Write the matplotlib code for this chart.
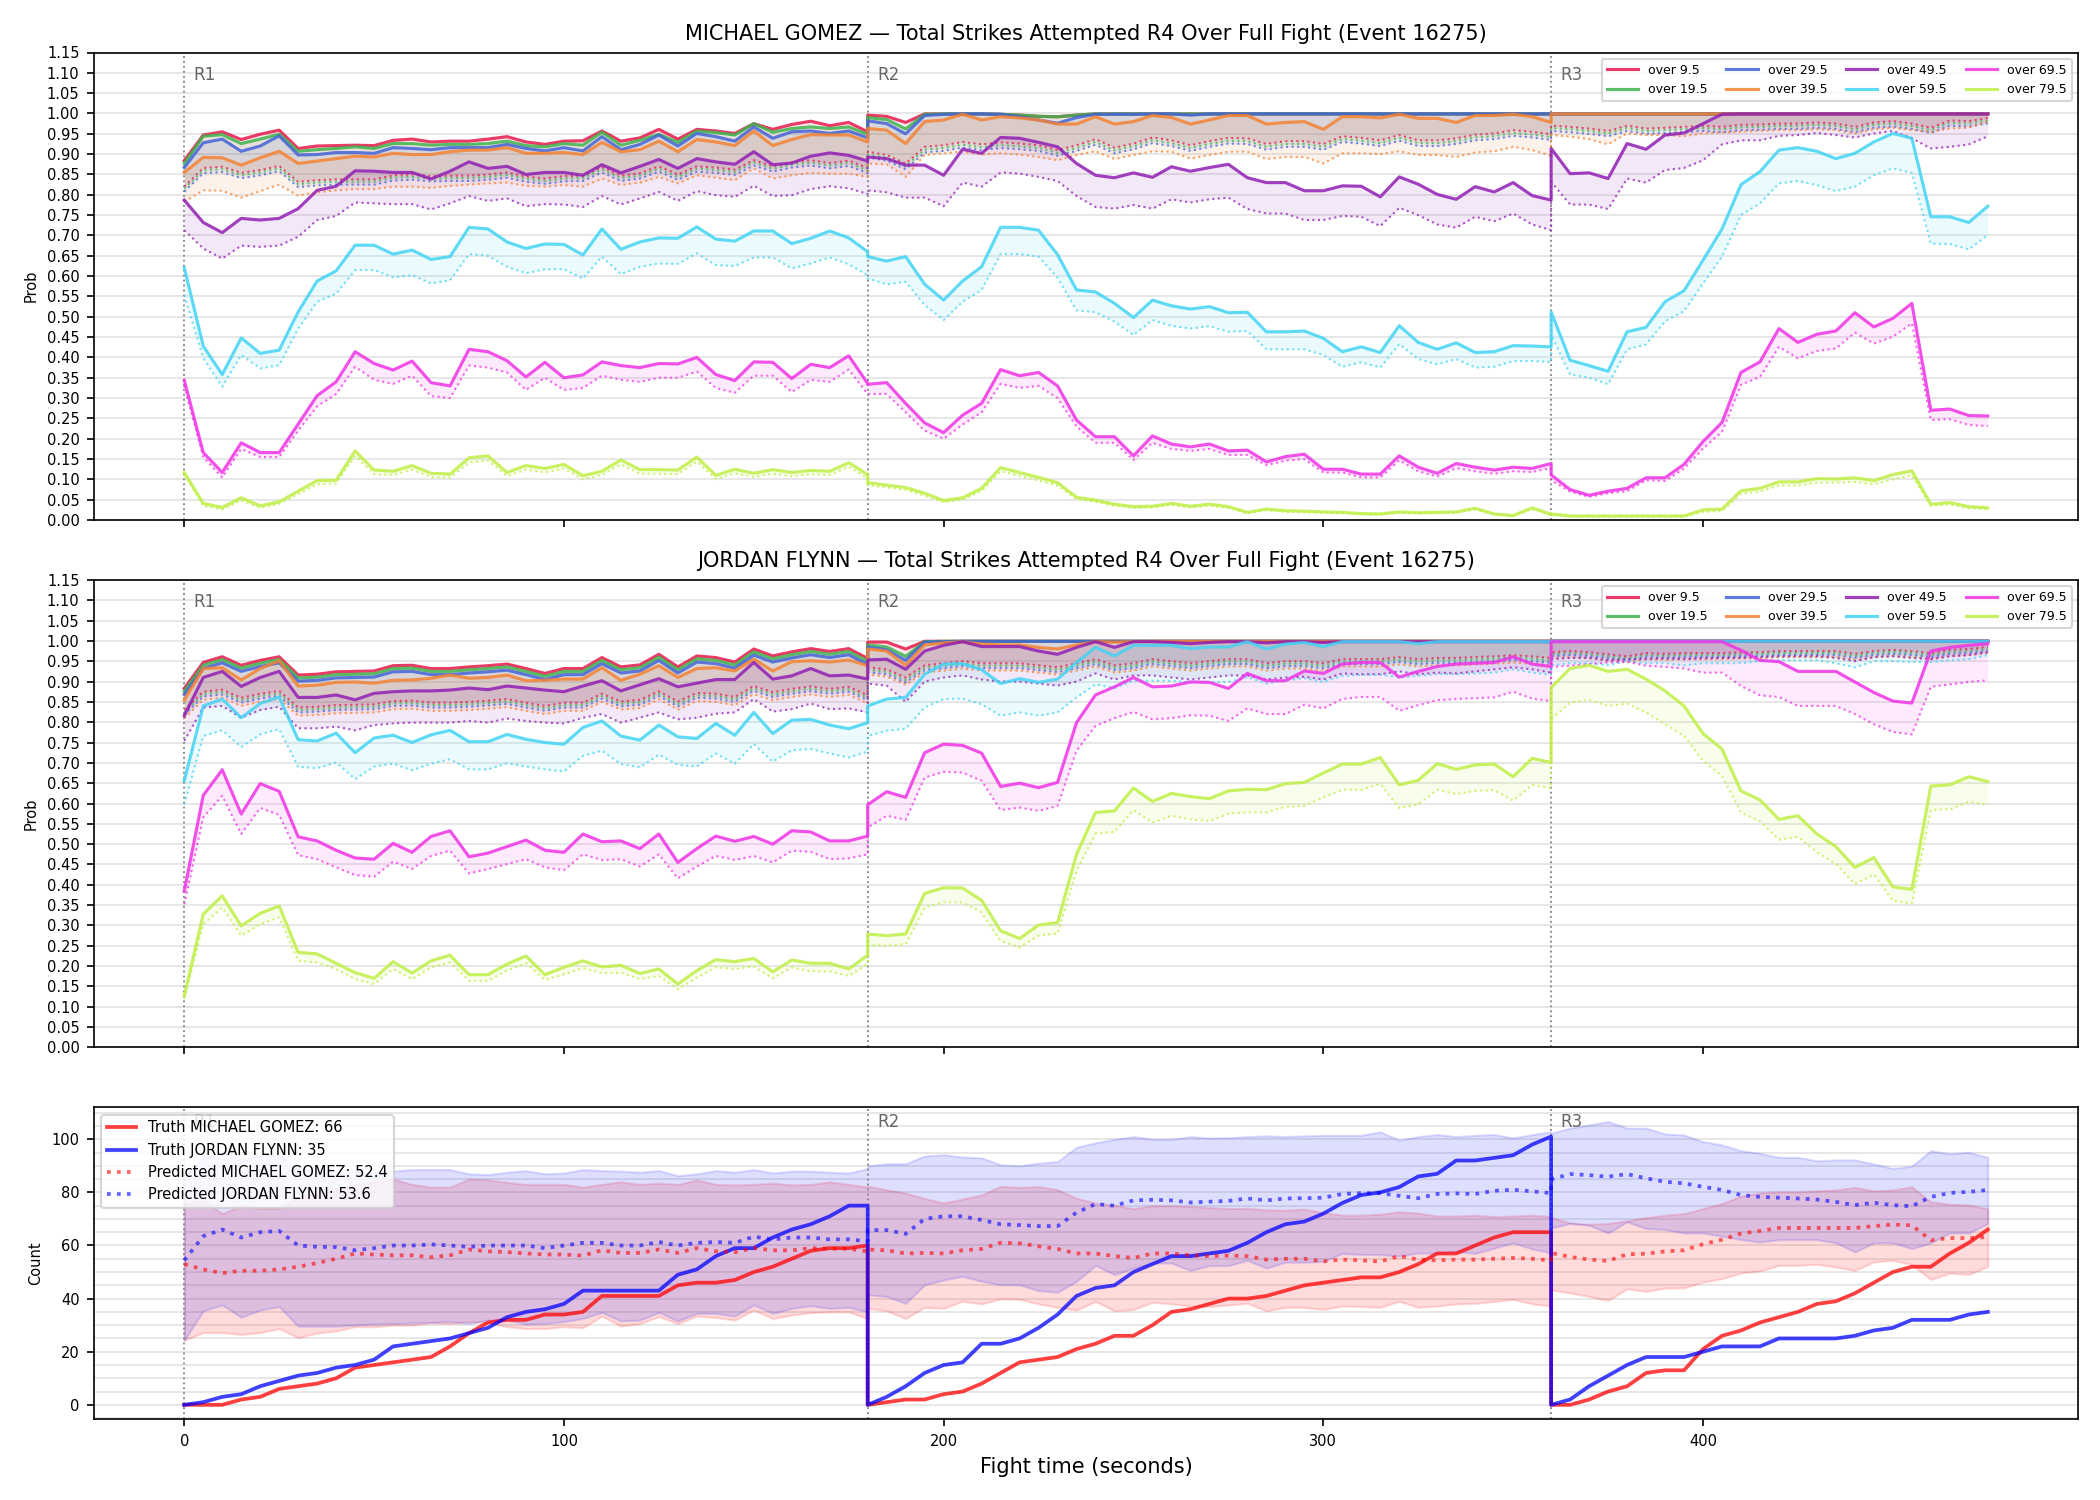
"""Live over/under probabilities and strike counts for one fight (Event 16275)."""

import numpy as np
import matplotlib
matplotlib.use("Agg")
import matplotlib.pyplot as plt
from matplotlib.ticker import MultipleLocator, FormatStrFormatter
from matplotlib.transforms import blended_transform_factory

FIGHTER_A = "MICHAEL GOMEZ"
FIGHTER_B = "JORDAN FLYNN"
EVENT_ID = 16275
ROUND_STARTS = [0, 180, 360]
ROUND_POINTS = [37, 37, 24]
STEP_S = 5

THRESHOLDS = ["over 9.5", "over 19.5", "over 29.5", "over 39.5",
              "over 49.5", "over 59.5", "over 69.5", "over 79.5"]
COLORS = ["#e6194b", "#3cb44b", "#4363d8", "#f58231",
          "#911eb4", "#42d4f4", "#f032e6", "#bfef45"]

# ---------------- MICHAEL GOMEZ: solid (live) and dotted (base) ----------------
G_09 = [0.884, 0.947, 0.955, 0.936, 0.949, 0.959, 0.914, 0.920, 0.921, 0.922, 0.921, 0.934, 0.937, 0.930, 0.932, 0.932, 0.937, 0.943, 0.930, 0.924, 0.932, 0.933, 0.957, 0.932, 0.940, 0.961, 0.937, 0.961, 0.957, 0.951, 0.975, 0.961, 0.973, 0.981, 0.970, 0.978, 0.955,
        0.996, 0.993, 0.978, 0.999, 0.999, 0.999, 0.999, 0.998, 0.996, 0.993, 0.992, 0.996, 0.999] + [0.999] * 24 + [0.999] * 24
G_19 = [0.877, 0.944, 0.948, 0.926, 0.937, 0.949, 0.907, 0.911, 0.914, 0.918, 0.914, 0.926, 0.926, 0.922, 0.924, 0.924, 0.926, 0.932, 0.921, 0.918, 0.926, 0.922, 0.954, 0.922, 0.934, 0.949, 0.929, 0.957, 0.953, 0.947, 0.975, 0.954, 0.963, 0.967, 0.963, 0.967, 0.949,
        0.990, 0.985, 0.962, 0.998, 0.999, 0.999, 0.999, 0.998, 0.996, 0.993, 0.992, 0.996, 0.999] + [0.999] * 24 + [0.999] * 24
G_29 = [0.867, 0.928, 0.937, 0.907, 0.920, 0.945, 0.898, 0.899, 0.904, 0.904, 0.902, 0.916, 0.914, 0.911, 0.916, 0.916, 0.916, 0.924, 0.914, 0.908, 0.916, 0.908, 0.943, 0.911, 0.924, 0.947, 0.920, 0.951, 0.943, 0.932, 0.967, 0.939, 0.955, 0.957, 0.951, 0.957, 0.940,
        0.982, 0.975, 0.950, 0.995, 0.998, 0.999, 0.999, 0.998, 0.992, 0.984, 0.976, 0.990, 0.998, 0.998, 0.998, 0.999, 0.999, 0.996] + [0.999] * 19 + [0.999] * 24
G_39 = [0.855, 0.892, 0.891, 0.873, 0.891, 0.907, 0.877, 0.883, 0.889, 0.895, 0.893, 0.902, 0.899, 0.899, 0.906, 0.910, 0.910, 0.916, 0.902, 0.902, 0.904, 0.899, 0.929, 0.906, 0.911, 0.932, 0.906, 0.936, 0.930, 0.921, 0.957, 0.921, 0.936, 0.948, 0.947, 0.947, 0.930,
        0.963, 0.959, 0.926, 0.980, 0.984, 0.998, 0.984, 0.992, 0.989, 0.984, 0.974, 0.974, 0.992, 0.974, 0.980, 0.995, 0.990, 0.974, 0.984, 0.995, 0.995, 0.974, 0.978, 0.980, 0.961, 0.992, 0.992, 0.989, 0.998, 0.988, 0.988, 0.978, 0.995, 0.995, 0.998, 0.992, 0.978] + [0.999] * 24
G_49 = [0.787, 0.732, 0.707, 0.742, 0.738, 0.742, 0.766, 0.811, 0.821, 0.859, 0.858, 0.855, 0.855, 0.839, 0.858, 0.881, 0.865, 0.870, 0.850, 0.855, 0.855, 0.848, 0.874, 0.854, 0.870, 0.887, 0.865, 0.889, 0.881, 0.875, 0.906, 0.874, 0.878, 0.895, 0.903, 0.897, 0.883,
        0.893, 0.889, 0.873, 0.873, 0.848, 0.912, 0.902, 0.941, 0.939, 0.929, 0.918, 0.877, 0.848, 0.842, 0.854, 0.843, 0.869, 0.858, 0.867, 0.875, 0.842, 0.830, 0.830, 0.810, 0.810, 0.822, 0.821, 0.795, 0.844, 0.826, 0.801, 0.789, 0.820, 0.807, 0.830, 0.798, 0.787,
        0.914, 0.852, 0.854, 0.840, 0.926, 0.912, 0.947, 0.952, 0.975, 0.998] + [0.999] * 14
G_59 = [0.621, 0.428, 0.358, 0.448, 0.410, 0.418, 0.512, 0.588, 0.613, 0.676, 0.676, 0.654, 0.664, 0.641, 0.648, 0.720, 0.716, 0.684, 0.668, 0.679, 0.678, 0.652, 0.716, 0.666, 0.684, 0.694, 0.693, 0.721, 0.691, 0.686, 0.711, 0.711, 0.680, 0.693, 0.711, 0.694, 0.660,
        0.648, 0.637, 0.648, 0.580, 0.541, 0.588, 0.623, 0.720, 0.720, 0.713, 0.653, 0.566, 0.561, 0.533, 0.498, 0.541, 0.527, 0.519, 0.525, 0.510, 0.511, 0.463, 0.463, 0.465, 0.447, 0.414, 0.426, 0.412, 0.478, 0.437, 0.420, 0.436, 0.412, 0.414, 0.429, 0.428, 0.426,
        0.512, 0.393, 0.380, 0.366, 0.463, 0.474, 0.537, 0.564, 0.639, 0.716, 0.825, 0.857, 0.910, 0.916, 0.907, 0.889, 0.902, 0.930, 0.951, 0.939, 0.746, 0.746, 0.732, 0.772]
G_69 = [0.344, 0.166, 0.117, 0.190, 0.166, 0.166, 0.236, 0.306, 0.340, 0.414, 0.385, 0.369, 0.391, 0.338, 0.330, 0.420, 0.414, 0.392, 0.352, 0.388, 0.350, 0.357, 0.389, 0.380, 0.375, 0.385, 0.384, 0.400, 0.358, 0.343, 0.389, 0.388, 0.348, 0.383, 0.375, 0.404, 0.336,
        0.334, 0.338, 0.287, 0.239, 0.215, 0.258, 0.287, 0.370, 0.355, 0.363, 0.330, 0.246, 0.205, 0.205, 0.158, 0.207, 0.187, 0.180, 0.187, 0.170, 0.172, 0.143, 0.156, 0.162, 0.125, 0.125, 0.113, 0.113, 0.158, 0.130, 0.115, 0.139, 0.130, 0.123, 0.130, 0.127, 0.139,
        0.111, 0.075, 0.061, 0.071, 0.078, 0.104, 0.104, 0.137, 0.193, 0.240, 0.363, 0.389, 0.471, 0.437, 0.457, 0.465, 0.510, 0.475, 0.496, 0.533, 0.270, 0.273, 0.257, 0.256]
G_79 = [0.117, 0.041, 0.031, 0.055, 0.035, 0.045, 0.071, 0.097, 0.098, 0.170, 0.123, 0.120, 0.134, 0.115, 0.113, 0.153, 0.158, 0.117, 0.134, 0.127, 0.137, 0.109, 0.120, 0.148, 0.124, 0.124, 0.123, 0.155, 0.110, 0.125, 0.115, 0.124, 0.117, 0.122, 0.120, 0.141, 0.112,
        0.092, 0.086, 0.080, 0.066, 0.048, 0.055, 0.078, 0.129, 0.117, 0.105, 0.092, 0.056, 0.049, 0.039, 0.033, 0.034, 0.041, 0.034, 0.039, 0.033, 0.019, 0.027, 0.023, 0.022, 0.020, 0.019, 0.016, 0.015, 0.020, 0.018, 0.019, 0.020, 0.029, 0.015, 0.011, 0.030, 0.014,
        0.015, 0.010, 0.010, 0.010, 0.010, 0.010, 0.010, 0.010, 0.025, 0.027, 0.072, 0.078, 0.094, 0.094, 0.102, 0.101, 0.104, 0.097, 0.112, 0.121, 0.039, 0.043, 0.033, 0.030]

G_09_D = [0.820, 0.866, 0.869, 0.854, 0.861, 0.871, 0.832, 0.836, 0.838, 0.838, 0.838, 0.848, 0.850, 0.846, 0.847, 0.847, 0.850, 0.855, 0.845, 0.840, 0.846, 0.847, 0.868, 0.847, 0.853, 0.870, 0.850, 0.870, 0.867, 0.862, 0.885, 0.870, 0.880, 0.885, 0.878, 0.884, 0.866,
          0.906, 0.898, 0.877, 0.918, 0.922, 0.930, 0.924, 0.929, 0.926, 0.922, 0.910, 0.922, 0.937, 0.916, 0.926, 0.941, 0.934, 0.922, 0.932, 0.940, 0.939, 0.925, 0.932, 0.932, 0.925, 0.944, 0.940, 0.934, 0.947, 0.934, 0.934, 0.939, 0.948, 0.951, 0.959, 0.955, 0.949,
          0.970, 0.967, 0.963, 0.957, 0.970, 0.963, 0.965, 0.967, 0.970, 0.967, 0.972, 0.973, 0.975, 0.975, 0.978, 0.975, 0.967, 0.978, 0.981, 0.975, 0.965, 0.983, 0.981, 0.989]
G_19_D = [0.815, 0.860, 0.863, 0.848, 0.855, 0.865, 0.826, 0.830, 0.832, 0.832, 0.832, 0.842, 0.844, 0.840, 0.841, 0.841, 0.844, 0.849, 0.839, 0.834, 0.840, 0.841, 0.862, 0.841, 0.847, 0.864, 0.844, 0.864, 0.861, 0.856, 0.879, 0.864, 0.874, 0.879, 0.872, 0.878, 0.860,
          0.899, 0.891, 0.870, 0.911, 0.915, 0.923, 0.917, 0.922, 0.919, 0.915, 0.903, 0.915, 0.930, 0.909, 0.919, 0.934, 0.927, 0.915, 0.925, 0.933, 0.932, 0.918, 0.925, 0.925, 0.918, 0.937, 0.933, 0.927, 0.940, 0.927, 0.927, 0.932, 0.941, 0.944, 0.952, 0.948, 0.942,
          0.964, 0.961, 0.957, 0.951, 0.964, 0.957, 0.959, 0.961, 0.964, 0.961, 0.966, 0.967, 0.969, 0.969, 0.972, 0.969, 0.961, 0.972, 0.975, 0.969, 0.959, 0.977, 0.975, 0.983]
G_29_D = [0.808, 0.853, 0.856, 0.841, 0.848, 0.858, 0.819, 0.823, 0.825, 0.825, 0.825, 0.835, 0.837, 0.833, 0.834, 0.834, 0.837, 0.842, 0.832, 0.827, 0.833, 0.834, 0.855, 0.834, 0.840, 0.857, 0.837, 0.857, 0.854, 0.849, 0.872, 0.857, 0.867, 0.872, 0.865, 0.871, 0.853,
          0.892, 0.884, 0.863, 0.904, 0.908, 0.916, 0.910, 0.915, 0.912, 0.908, 0.896, 0.908, 0.923, 0.902, 0.912, 0.927, 0.920, 0.908, 0.918, 0.926, 0.925, 0.911, 0.918, 0.918, 0.911, 0.930, 0.926, 0.920, 0.933, 0.920, 0.920, 0.925, 0.934, 0.937, 0.945, 0.941, 0.935,
          0.957, 0.954, 0.950, 0.944, 0.957, 0.950, 0.952, 0.954, 0.957, 0.954, 0.959, 0.960, 0.962, 0.962, 0.965, 0.962, 0.954, 0.965, 0.968, 0.962, 0.952, 0.970, 0.968, 0.976]
G_39_D = [0.783, 0.811, 0.810, 0.793, 0.809, 0.825, 0.798, 0.806, 0.811, 0.814, 0.814, 0.820, 0.820, 0.817, 0.822, 0.825, 0.828, 0.830, 0.822, 0.820, 0.824, 0.820, 0.840, 0.824, 0.830, 0.844, 0.828, 0.848, 0.842, 0.836, 0.865, 0.840, 0.848, 0.854, 0.852, 0.852, 0.844,
          0.877, 0.875, 0.844, 0.898, 0.902, 0.906, 0.899, 0.902, 0.899, 0.893, 0.885, 0.898, 0.907, 0.888, 0.898, 0.907, 0.906, 0.889, 0.898, 0.906, 0.906, 0.888, 0.893, 0.893, 0.877, 0.902, 0.902, 0.900, 0.907, 0.898, 0.898, 0.893, 0.904, 0.907, 0.918, 0.910, 0.896,
          0.947, 0.943, 0.937, 0.924, 0.951, 0.947, 0.947, 0.944, 0.951, 0.953, 0.955, 0.957, 0.959, 0.959, 0.961, 0.959, 0.951, 0.961, 0.965, 0.959, 0.955, 0.963, 0.965, 0.980]
G_49_D = [0.713, 0.668, 0.643, 0.675, 0.672, 0.675, 0.697, 0.738, 0.748, 0.781, 0.779, 0.777, 0.777, 0.764, 0.779, 0.797, 0.785, 0.791, 0.772, 0.777, 0.776, 0.770, 0.797, 0.776, 0.791, 0.807, 0.785, 0.809, 0.799, 0.795, 0.822, 0.797, 0.799, 0.814, 0.821, 0.816, 0.802,
          0.811, 0.806, 0.793, 0.793, 0.772, 0.830, 0.820, 0.855, 0.852, 0.844, 0.834, 0.797, 0.770, 0.766, 0.775, 0.766, 0.789, 0.781, 0.789, 0.793, 0.765, 0.754, 0.754, 0.738, 0.738, 0.748, 0.746, 0.723, 0.768, 0.750, 0.727, 0.719, 0.746, 0.735, 0.754, 0.727, 0.713,
          0.832, 0.776, 0.776, 0.765, 0.840, 0.830, 0.861, 0.866, 0.885, 0.924, 0.934, 0.934, 0.945, 0.947, 0.952, 0.947, 0.941, 0.951, 0.957, 0.939, 0.914, 0.918, 0.924, 0.944]
G_59_D = [0.553, 0.398, 0.328, 0.406, 0.373, 0.381, 0.471, 0.537, 0.557, 0.615, 0.615, 0.597, 0.602, 0.582, 0.590, 0.654, 0.650, 0.623, 0.607, 0.617, 0.617, 0.594, 0.648, 0.605, 0.623, 0.631, 0.630, 0.656, 0.627, 0.625, 0.646, 0.646, 0.619, 0.631, 0.646, 0.629, 0.602,
          0.594, 0.580, 0.586, 0.529, 0.492, 0.537, 0.566, 0.654, 0.654, 0.648, 0.596, 0.516, 0.511, 0.488, 0.455, 0.492, 0.478, 0.471, 0.477, 0.463, 0.465, 0.420, 0.420, 0.420, 0.406, 0.377, 0.388, 0.375, 0.433, 0.396, 0.383, 0.396, 0.375, 0.377, 0.391, 0.391, 0.389,
          0.455, 0.358, 0.350, 0.334, 0.420, 0.432, 0.489, 0.514, 0.582, 0.648, 0.750, 0.779, 0.828, 0.834, 0.824, 0.809, 0.820, 0.848, 0.865, 0.854, 0.680, 0.679, 0.666, 0.701]
G_69_D = [0.330, 0.155, 0.105, 0.175, 0.155, 0.155, 0.220, 0.280, 0.310, 0.377, 0.345, 0.335, 0.355, 0.305, 0.300, 0.380, 0.375, 0.363, 0.320, 0.350, 0.320, 0.325, 0.355, 0.345, 0.340, 0.350, 0.350, 0.365, 0.325, 0.313, 0.355, 0.355, 0.315, 0.345, 0.340, 0.370, 0.310,
          0.310, 0.310, 0.265, 0.220, 0.200, 0.235, 0.265, 0.335, 0.325, 0.330, 0.300, 0.230, 0.190, 0.190, 0.148, 0.190, 0.175, 0.170, 0.175, 0.160, 0.160, 0.135, 0.146, 0.150, 0.117, 0.117, 0.105, 0.105, 0.147, 0.120, 0.107, 0.128, 0.120, 0.114, 0.120, 0.118, 0.128,
          0.098, 0.070, 0.057, 0.066, 0.071, 0.098, 0.096, 0.127, 0.176, 0.217, 0.333, 0.352, 0.426, 0.398, 0.416, 0.422, 0.461, 0.434, 0.451, 0.484, 0.246, 0.248, 0.234, 0.231]
G_79_D = [0.112, 0.035, 0.026, 0.048, 0.030, 0.040, 0.064, 0.088, 0.090, 0.158, 0.113, 0.111, 0.124, 0.106, 0.104, 0.142, 0.147, 0.108, 0.124, 0.117, 0.127, 0.100, 0.111, 0.137, 0.114, 0.114, 0.113, 0.144, 0.101, 0.115, 0.106, 0.114, 0.108, 0.113, 0.111, 0.131, 0.103,
          0.085, 0.080, 0.074, 0.060, 0.044, 0.050, 0.072, 0.120, 0.109, 0.097, 0.085, 0.051, 0.045, 0.035, 0.030, 0.031, 0.037, 0.031, 0.035, 0.030, 0.017, 0.024, 0.020, 0.019, 0.018, 0.017, 0.014, 0.013, 0.018, 0.016, 0.017, 0.018, 0.026, 0.013, 0.010, 0.027, 0.012,
          0.013, 0.008, 0.008, 0.008, 0.008, 0.008, 0.008, 0.008, 0.020, 0.022, 0.065, 0.070, 0.085, 0.085, 0.092, 0.092, 0.094, 0.088, 0.100, 0.110, 0.035, 0.038, 0.029, 0.027]

# ---------------- JORDAN FLYNN ----------------
F_09 = [0.883, 0.947, 0.961, 0.940, 0.952, 0.961, 0.916, 0.918, 0.924, 0.925, 0.926, 0.939, 0.940, 0.932, 0.932, 0.936, 0.939, 0.943, 0.932, 0.920, 0.932, 0.932, 0.959, 0.936, 0.941, 0.967, 0.936, 0.963, 0.959, 0.948, 0.980, 0.963, 0.973, 0.981, 0.974, 0.981, 0.957,
        0.997, 0.997, 0.980] + [0.999] * 34 + [0.999] * 24
F_19 = [0.876, 0.940, 0.954, 0.933, 0.945, 0.954, 0.909, 0.911, 0.917, 0.918, 0.919, 0.932, 0.933, 0.925, 0.925, 0.929, 0.932, 0.936, 0.925, 0.913, 0.925, 0.925, 0.952, 0.929, 0.934, 0.960, 0.929, 0.956, 0.952, 0.941, 0.973, 0.956, 0.966, 0.974, 0.967, 0.974, 0.950,
        0.990, 0.985, 0.962, 0.998] + [0.999] * 33 + [0.999] * 24
F_29 = [0.868, 0.932, 0.946, 0.925, 0.937, 0.946, 0.901, 0.903, 0.909, 0.910, 0.911, 0.924, 0.925, 0.917, 0.917, 0.921, 0.924, 0.928, 0.917, 0.905, 0.917, 0.917, 0.944, 0.921, 0.926, 0.952, 0.921, 0.948, 0.944, 0.933, 0.965, 0.948, 0.958, 0.966, 0.959, 0.966, 0.942,
        0.985, 0.978, 0.952, 0.997, 0.998] + [0.999] * 32 + [0.999] * 24
F_39 = [0.854, 0.932, 0.934, 0.904, 0.932, 0.951, 0.889, 0.891, 0.898, 0.899, 0.896, 0.903, 0.904, 0.908, 0.916, 0.908, 0.910, 0.916, 0.902, 0.903, 0.906, 0.906, 0.934, 0.903, 0.918, 0.939, 0.910, 0.932, 0.934, 0.926, 0.955, 0.926, 0.949, 0.951, 0.948, 0.953, 0.939,
        0.980, 0.975, 0.940, 0.990, 0.995, 0.998, 0.992, 0.990, 0.990, 0.984, 0.980, 0.990, 0.998, 0.997, 0.998] + [0.999] * 22 + [0.999] * 24
F_49 = [0.816, 0.910, 0.925, 0.888, 0.910, 0.925, 0.861, 0.861, 0.867, 0.855, 0.871, 0.875, 0.877, 0.877, 0.879, 0.884, 0.880, 0.889, 0.884, 0.879, 0.875, 0.889, 0.902, 0.877, 0.892, 0.907, 0.887, 0.896, 0.905, 0.905, 0.947, 0.906, 0.914, 0.932, 0.914, 0.916, 0.906,
        0.953, 0.955, 0.930, 0.975, 0.989, 0.998, 0.986, 0.986, 0.986, 0.975, 0.967, 0.984, 0.998, 0.984, 0.998, 0.998, 0.996, 0.993, 0.996, 0.998, 0.998, 0.995, 0.998, 0.998, 0.996] + [0.998] * 12 + [0.999] * 24
F_59 = [0.656, 0.840, 0.857, 0.811, 0.846, 0.862, 0.757, 0.754, 0.773, 0.725, 0.761, 0.768, 0.750, 0.769, 0.780, 0.752, 0.752, 0.770, 0.758, 0.750, 0.746, 0.787, 0.803, 0.766, 0.756, 0.793, 0.764, 0.760, 0.797, 0.768, 0.824, 0.772, 0.805, 0.807, 0.793, 0.784, 0.799,
        0.840, 0.857, 0.861, 0.918, 0.943, 0.944, 0.929, 0.895, 0.907, 0.898, 0.906, 0.947, 0.984, 0.963, 0.989, 0.989, 0.989, 0.981, 0.985, 0.985, 0.998, 0.980, 0.992, 0.996, 0.986, 0.998, 0.998, 0.998, 0.998, 0.993, 0.998, 0.998, 0.998, 0.998, 0.998, 0.998, 0.998] + [0.999] * 24
F_69 = [0.385, 0.620, 0.683, 0.574, 0.649, 0.630, 0.518, 0.508, 0.485, 0.466, 0.463, 0.502, 0.480, 0.519, 0.533, 0.469, 0.478, 0.494, 0.510, 0.485, 0.480, 0.525, 0.506, 0.508, 0.489, 0.525, 0.455, 0.489, 0.520, 0.507, 0.519, 0.500, 0.533, 0.530, 0.508, 0.508, 0.520,
        0.597, 0.629, 0.615, 0.725, 0.746, 0.743, 0.724, 0.642, 0.650, 0.639, 0.652, 0.799, 0.867, 0.887, 0.910, 0.887, 0.889, 0.899, 0.898, 0.883, 0.920, 0.902, 0.902, 0.926, 0.920, 0.943, 0.947, 0.947, 0.911, 0.925, 0.937, 0.943, 0.945, 0.947, 0.961, 0.943, 0.937,
        0.998, 0.998, 0.998, 0.998, 0.998, 0.998, 0.998, 0.998, 0.998, 0.998, 0.977, 0.952, 0.949, 0.925, 0.925, 0.925, 0.899, 0.873, 0.852, 0.847, 0.975, 0.984, 0.989, 0.993]
F_79 = [0.127, 0.328, 0.373, 0.299, 0.330, 0.348, 0.234, 0.230, 0.207, 0.184, 0.170, 0.211, 0.183, 0.213, 0.227, 0.179, 0.179, 0.205, 0.225, 0.179, 0.197, 0.213, 0.198, 0.202, 0.182, 0.193, 0.156, 0.189, 0.216, 0.211, 0.219, 0.186, 0.215, 0.207, 0.207, 0.193, 0.227,
        0.279, 0.275, 0.279, 0.379, 0.393, 0.392, 0.362, 0.287, 0.268, 0.301, 0.307, 0.475, 0.578, 0.582, 0.638, 0.605, 0.625, 0.617, 0.612, 0.631, 0.635, 0.634, 0.649, 0.652, 0.675, 0.697, 0.697, 0.713, 0.646, 0.657, 0.698, 0.684, 0.695, 0.697, 0.666, 0.711, 0.701,
        0.885, 0.932, 0.940, 0.925, 0.930, 0.906, 0.877, 0.840, 0.772, 0.734, 0.631, 0.609, 0.561, 0.570, 0.525, 0.494, 0.443, 0.467, 0.395, 0.389, 0.643, 0.646, 0.666, 0.654]

F_09_D = [0.830, 0.875, 0.880, 0.860, 0.870, 0.877, 0.836, 0.838, 0.842, 0.843, 0.844, 0.852, 0.853, 0.848, 0.848, 0.850, 0.853, 0.857, 0.848, 0.840, 0.848, 0.848, 0.870, 0.851, 0.855, 0.876, 0.851, 0.872, 0.870, 0.862, 0.889, 0.874, 0.882, 0.888, 0.882, 0.887, 0.866,
          0.935, 0.930, 0.910, 0.940, 0.945, 0.950, 0.945, 0.945, 0.945, 0.940, 0.935, 0.945, 0.955, 0.940, 0.945, 0.955, 0.950, 0.945, 0.950, 0.955, 0.955, 0.945, 0.950, 0.950, 0.945, 0.955, 0.955, 0.955, 0.960, 0.955, 0.958, 0.958, 0.960, 0.962, 0.965, 0.962, 0.958,
          0.972, 0.975, 0.972, 0.967, 0.962, 0.970, 0.968, 0.970, 0.970, 0.970, 0.972, 0.972, 0.975, 0.975, 0.975, 0.975, 0.968, 0.975, 0.978, 0.975, 0.970, 0.978, 0.980, 0.985]
F_19_D = [0.824, 0.869, 0.874, 0.854, 0.864, 0.871, 0.830, 0.832, 0.836, 0.837, 0.838, 0.846, 0.847, 0.842, 0.842, 0.844, 0.847, 0.851, 0.842, 0.834, 0.842, 0.842, 0.864, 0.845, 0.849, 0.870, 0.845, 0.866, 0.864, 0.856, 0.883, 0.868, 0.876, 0.882, 0.876, 0.881, 0.860,
          0.929, 0.924, 0.904, 0.934, 0.939, 0.944, 0.939, 0.939, 0.939, 0.934, 0.929, 0.939, 0.949, 0.934, 0.939, 0.949, 0.944, 0.939, 0.944, 0.949, 0.949, 0.939, 0.944, 0.944, 0.939, 0.949, 0.949, 0.949, 0.954, 0.949, 0.952, 0.952, 0.954, 0.956, 0.959, 0.956, 0.952,
          0.967, 0.970, 0.967, 0.962, 0.957, 0.965, 0.963, 0.965, 0.965, 0.965, 0.967, 0.967, 0.970, 0.970, 0.970, 0.970, 0.963, 0.970, 0.973, 0.970, 0.965, 0.973, 0.975, 0.980]
F_29_D = [0.818, 0.863, 0.868, 0.848, 0.858, 0.865, 0.824, 0.826, 0.830, 0.831, 0.832, 0.840, 0.841, 0.836, 0.836, 0.838, 0.841, 0.845, 0.836, 0.828, 0.836, 0.836, 0.858, 0.839, 0.843, 0.864, 0.839, 0.860, 0.858, 0.850, 0.877, 0.862, 0.870, 0.876, 0.870, 0.875, 0.854,
          0.923, 0.918, 0.898, 0.928, 0.933, 0.938, 0.933, 0.933, 0.933, 0.928, 0.923, 0.933, 0.943, 0.928, 0.933, 0.943, 0.938, 0.933, 0.938, 0.943, 0.943, 0.933, 0.938, 0.938, 0.933, 0.943, 0.943, 0.943, 0.948, 0.943, 0.946, 0.946, 0.948, 0.950, 0.953, 0.950, 0.946,
          0.962, 0.965, 0.962, 0.957, 0.952, 0.960, 0.958, 0.960, 0.960, 0.960, 0.962, 0.962, 0.965, 0.965, 0.965, 0.965, 0.958, 0.965, 0.968, 0.965, 0.960, 0.968, 0.970, 0.975]
F_39_D = [0.810, 0.855, 0.860, 0.840, 0.850, 0.857, 0.816, 0.818, 0.822, 0.823, 0.824, 0.832, 0.833, 0.828, 0.828, 0.830, 0.833, 0.837, 0.828, 0.820, 0.828, 0.828, 0.850, 0.831, 0.835, 0.856, 0.831, 0.852, 0.850, 0.842, 0.869, 0.854, 0.862, 0.868, 0.862, 0.867, 0.846,
          0.917, 0.912, 0.892, 0.922, 0.927, 0.932, 0.927, 0.927, 0.927, 0.922, 0.917, 0.927, 0.937, 0.922, 0.927, 0.937, 0.932, 0.927, 0.932, 0.937, 0.937, 0.927, 0.932, 0.932, 0.927, 0.937, 0.937, 0.937, 0.942, 0.937, 0.940, 0.940, 0.942, 0.944, 0.947, 0.944, 0.940,
          0.957, 0.960, 0.957, 0.952, 0.947, 0.955, 0.953, 0.955, 0.955, 0.955, 0.957, 0.957, 0.960, 0.960, 0.960, 0.960, 0.953, 0.960, 0.963, 0.960, 0.955, 0.963, 0.965, 0.970]
F_49_D = [0.754, 0.836, 0.840, 0.811, 0.830, 0.838, 0.785, 0.785, 0.789, 0.780, 0.793, 0.797, 0.799, 0.799, 0.799, 0.803, 0.799, 0.809, 0.803, 0.799, 0.797, 0.811, 0.820, 0.799, 0.811, 0.824, 0.807, 0.811, 0.821, 0.824, 0.857, 0.826, 0.832, 0.846, 0.832, 0.834, 0.824,
          0.895, 0.890, 0.850, 0.900, 0.910, 0.915, 0.905, 0.900, 0.900, 0.895, 0.890, 0.900, 0.920, 0.905, 0.915, 0.915, 0.910, 0.905, 0.910, 0.915, 0.915, 0.905, 0.910, 0.912, 0.905, 0.920, 0.918, 0.918, 0.925, 0.918, 0.922, 0.920, 0.925, 0.930, 0.935, 0.930, 0.922,
          0.955, 0.958, 0.958, 0.952, 0.955, 0.955, 0.957, 0.955, 0.957, 0.958, 0.958, 0.960, 0.962, 0.962, 0.962, 0.958, 0.950, 0.960, 0.962, 0.958, 0.955, 0.962, 0.965, 0.972]
F_59_D = [0.598, 0.766, 0.780, 0.739, 0.770, 0.783, 0.690, 0.687, 0.701, 0.660, 0.691, 0.698, 0.682, 0.698, 0.709, 0.684, 0.684, 0.699, 0.691, 0.684, 0.679, 0.717, 0.730, 0.697, 0.689, 0.720, 0.695, 0.691, 0.723, 0.698, 0.746, 0.703, 0.731, 0.734, 0.723, 0.713, 0.728,
          0.766, 0.779, 0.784, 0.836, 0.857, 0.858, 0.844, 0.816, 0.824, 0.816, 0.824, 0.861, 0.893, 0.884, 0.902, 0.902, 0.902, 0.898, 0.899, 0.899, 0.911, 0.895, 0.903, 0.908, 0.899, 0.914, 0.916, 0.917, 0.910, 0.914, 0.918, 0.918, 0.920, 0.922, 0.930, 0.922, 0.917,
          0.940, 0.945, 0.945, 0.940, 0.950, 0.945, 0.945, 0.940, 0.945, 0.945, 0.945, 0.950, 0.952, 0.952, 0.952, 0.945, 0.935, 0.950, 0.950, 0.948, 0.948, 0.952, 0.955, 0.965]
F_69_D = [0.352, 0.566, 0.619, 0.525, 0.589, 0.572, 0.473, 0.463, 0.443, 0.424, 0.420, 0.457, 0.439, 0.471, 0.484, 0.428, 0.439, 0.451, 0.463, 0.443, 0.436, 0.475, 0.461, 0.463, 0.445, 0.475, 0.416, 0.445, 0.471, 0.461, 0.471, 0.455, 0.484, 0.481, 0.463, 0.465, 0.475,
          0.541, 0.570, 0.560, 0.664, 0.678, 0.676, 0.656, 0.584, 0.590, 0.582, 0.594, 0.730, 0.791, 0.810, 0.825, 0.807, 0.810, 0.817, 0.816, 0.803, 0.834, 0.820, 0.820, 0.843, 0.834, 0.857, 0.862, 0.862, 0.828, 0.842, 0.854, 0.857, 0.859, 0.861, 0.875, 0.858, 0.852,
          0.936, 0.939, 0.943, 0.947, 0.949, 0.939, 0.936, 0.932, 0.922, 0.922, 0.889, 0.866, 0.862, 0.840, 0.840, 0.840, 0.820, 0.795, 0.776, 0.770, 0.887, 0.893, 0.899, 0.903]
F_79_D = [0.120, 0.303, 0.344, 0.275, 0.303, 0.320, 0.213, 0.209, 0.193, 0.168, 0.156, 0.193, 0.168, 0.197, 0.209, 0.164, 0.164, 0.189, 0.207, 0.166, 0.180, 0.195, 0.183, 0.184, 0.168, 0.176, 0.143, 0.172, 0.197, 0.193, 0.199, 0.170, 0.197, 0.187, 0.187, 0.176, 0.205,
          0.252, 0.250, 0.254, 0.344, 0.357, 0.357, 0.332, 0.262, 0.246, 0.275, 0.280, 0.434, 0.526, 0.530, 0.584, 0.553, 0.570, 0.561, 0.557, 0.575, 0.578, 0.578, 0.592, 0.594, 0.615, 0.634, 0.634, 0.648, 0.589, 0.598, 0.634, 0.623, 0.631, 0.633, 0.607, 0.646, 0.638,
          0.807, 0.848, 0.855, 0.840, 0.846, 0.824, 0.795, 0.766, 0.705, 0.668, 0.578, 0.556, 0.511, 0.518, 0.480, 0.451, 0.402, 0.425, 0.361, 0.354, 0.584, 0.586, 0.604, 0.597]

# ---------------- counts (cumulative within each round) ----------------
TRUTH_A = [0, 0, 0, 2, 3, 6, 7, 8, 10, 14, 15, 16, 17, 18, 22, 27, 31, 32, 32, 34, 34, 35, 41, 41, 41, 41, 45, 46, 46, 47, 50, 52, 55, 58, 59, 59, 60,
           0, 1, 2, 2, 4, 5, 8, 12, 16, 17, 18, 21, 23, 26, 26, 30, 35, 36, 38, 40, 40, 41, 43, 45, 46, 47, 48, 48, 50, 53, 57, 57, 60, 63, 65, 65, 65,
           0, 0, 2, 5, 7, 12, 13, 13, 21, 26, 28, 31, 33, 35, 38, 39, 42, 46, 50, 52, 52, 57, 61, 66]
TRUTH_B = [0, 1, 3, 4, 7, 9, 11, 12, 14, 15, 17, 22, 23, 24, 25, 27, 29, 33, 35, 36, 38, 43, 43, 43, 43, 43, 49, 51, 56, 59, 59, 63, 66, 68, 71, 75, 75,
           0, 3, 7, 12, 15, 16, 23, 23, 25, 29, 34, 41, 44, 45, 50, 53, 56, 56, 57, 58, 61, 65, 68, 69, 72, 76, 79, 80, 82, 86, 87, 92, 92, 93, 94, 98, 101,
           0, 2, 7, 11, 15, 18, 18, 18, 20, 22, 22, 22, 25, 25, 25, 25, 26, 28, 29, 32, 32, 32, 34, 35]
PRED_A = [53.0, 51.0, 49.6, 50.5, 50.5, 51.0, 52.0, 53.4, 55.0, 57.0, 56.6, 56.3, 56.3, 55.6, 56.3, 58.5, 57.8, 57.5, 57.0, 56.6, 56.6, 56.2, 58.2, 57.2, 57.2, 58.5, 57.2, 59.0, 57.8, 57.5, 59.0, 58.2, 58.2, 59.0, 58.8, 58.8, 57.8,
          58.5, 58.2, 57.0, 57.2, 57.0, 58.2, 58.7, 61.0, 60.8, 59.7, 58.7, 57.0, 57.0, 56.0, 55.3, 57.0, 57.0, 56.3, 56.0, 56.2, 56.0, 54.7, 55.0, 55.0, 54.0, 54.7, 54.4, 54.0, 56.0, 54.7, 54.4, 54.7, 54.7, 55.0, 55.3, 55.0, 54.4,
          57.2, 55.7, 54.7, 54.2, 56.7, 56.9, 57.8, 58.2, 60.5, 62.2, 64.5, 65.5, 66.6, 66.6, 66.6, 66.6, 66.6, 67.3, 67.9, 67.6, 62.0, 62.8, 62.8, 63.2]
PRED_B = [54.4, 63.5, 66.0, 63.0, 65.0, 65.5, 60.0, 59.5, 59.4, 58.2, 59.0, 60.0, 60.0, 60.4, 60.0, 59.5, 60.0, 60.0, 60.0, 59.0, 60.0, 61.0, 61.0, 60.0, 60.0, 61.3, 60.0, 61.0, 61.3, 61.0, 63.3, 62.3, 63.0, 63.0, 62.3, 62.3, 61.6,
          65.8, 65.8, 64.4, 70.0, 71.0, 71.0, 69.6, 68.0, 67.7, 67.3, 67.3, 72.4, 75.6, 75.0, 77.0, 77.2, 77.0, 76.2, 76.5, 76.8, 77.7, 77.0, 77.7, 77.8, 78.0, 79.4, 79.7, 79.7, 78.7, 77.8, 79.4, 79.6, 79.4, 80.6, 81.0, 80.4, 79.7,
          84.9, 86.9, 86.5, 85.9, 86.9, 85.3, 84.0, 83.4, 82.1, 80.9, 79.0, 78.3, 78.0, 77.7, 77.3, 76.4, 75.2, 76.1, 75.2, 74.8, 78.3, 79.8, 80.2, 80.9]
LOW_A = [24.3, 27.2, 27.2, 26.5, 27.2, 28.7, 25.3, 27.0, 27.8, 29.4, 29.4, 30.0, 30.0, 30.9, 30.6, 31.3, 30.9, 29.4, 28.7, 28.7, 29.4, 29.0, 33.4, 29.6, 30.6, 33.2, 30.6, 33.4, 32.9, 31.9, 35.7, 32.5, 33.8, 34.7, 35.0, 35.0, 32.5,
         36.3, 35.4, 32.5, 36.7, 36.3, 39.0, 38.0, 39.9, 39.7, 38.0, 36.7, 35.7, 38.9, 35.4, 35.9, 38.6, 38.0, 37.2, 37.0, 37.6, 38.2, 35.4, 36.7, 36.7, 35.9, 37.2, 37.0, 36.7, 39.0, 36.7, 37.2, 38.0, 38.2, 38.9, 39.7, 38.0, 37.2,
         43.3, 42.1, 40.8, 39.3, 43.7, 42.7, 44.0, 44.0, 46.2, 47.5, 49.6, 50.4, 52.5, 52.5, 52.9, 51.9, 50.6, 53.8, 54.4, 52.8, 47.2, 49.6, 49.1, 52.1]
HIGH_A = [76.0, 77.0, 72.0, 75.0, 74.0, 74.0, 78.0, 80.0, 81.0, 83.0, 84.0, 85.0, 83.0, 82.0, 82.0, 85.0, 84.7, 83.8, 83.0, 83.0, 83.0, 82.0, 83.0, 84.0, 83.0, 83.5, 83.0, 84.7, 83.0, 82.8, 83.0, 83.5, 82.8, 83.0, 84.0, 83.0, 82.0,
          82.3, 81.0, 79.7, 77.7, 76.0, 77.5, 79.0, 82.3, 81.9, 82.2, 81.0, 77.8, 76.0, 75.2, 73.9, 74.9, 74.9, 74.7, 74.3, 73.9, 74.0, 73.4, 73.3, 73.7, 72.4, 71.4, 71.4, 71.8, 72.7, 72.2, 71.1, 71.1, 71.4, 70.9, 71.1, 71.4, 70.9,
          70.5, 68.5, 68.0, 68.3, 69.3, 70.5, 71.4, 72.0, 73.9, 75.8, 78.6, 79.8, 80.2, 80.2, 80.6, 80.9, 81.9, 80.6, 80.9, 82.1, 76.4, 75.6, 75.2, 73.9]
LOW_B = [24.3, 35.4, 37.6, 33.0, 35.7, 37.0, 29.6, 29.6, 29.6, 30.0, 30.4, 30.6, 30.9, 31.0, 31.3, 30.6, 31.9, 31.9, 30.4, 30.6, 31.3, 32.5, 34.8, 31.6, 31.9, 34.8, 31.6, 34.4, 34.4, 33.4, 37.6, 34.4, 36.3, 37.3, 36.3, 36.7, 35.0,
         41.4, 40.8, 38.2, 45.2, 47.0, 48.4, 46.5, 45.2, 45.2, 43.0, 42.4, 46.5, 52.5, 49.0, 51.5, 53.4, 53.4, 50.6, 52.4, 52.4, 54.4, 51.5, 53.7, 53.7, 54.0, 57.0, 56.6, 56.6, 56.0, 57.2, 57.0, 57.8, 57.0, 59.0, 61.0, 58.7, 57.2,
         66.6, 68.3, 67.6, 64.7, 68.9, 66.4, 66.0, 64.7, 64.7, 63.5, 62.2, 61.3, 62.2, 62.2, 62.2, 61.0, 57.6, 61.0, 61.0, 58.8, 61.0, 64.7, 64.7, 68.3]
HIGH_B = [86.0, 93.0, 95.0, 92.0, 94.0, 94.0, 89.0, 88.0, 88.0, 88.0, 87.5, 88.0, 88.6, 88.6, 88.6, 87.0, 86.7, 87.6, 88.2, 87.0, 87.3, 88.6, 88.2, 88.0, 87.6, 88.2, 86.3, 87.0, 88.2, 87.6, 88.6, 87.3, 88.0, 88.0, 87.6, 87.3, 89.0,
          90.0, 90.8, 90.8, 93.7, 94.2, 93.3, 93.0, 90.4, 90.0, 91.0, 91.6, 97.0, 98.7, 100.0, 101.0, 100.0, 100.0, 101.0, 100.5, 100.6, 101.0, 101.3, 101.0, 101.3, 101.5, 101.5, 101.5, 102.8, 99.6, 101.0, 101.8, 101.0, 101.5, 101.8, 100.5, 101.8, 102.8,
          102.3, 104.2, 105.4, 106.7, 104.2, 104.2, 102.0, 101.6, 99.1, 97.9, 95.7, 94.7, 93.2, 93.2, 91.9, 92.2, 92.2, 90.7, 89.0, 89.9, 95.7, 94.5, 95.1, 93.2]
FINAL_TRUTH = [66, 35]
FINAL_PRED = [52.4, 53.6]


def _times():
    return np.concatenate([s + STEP_S * np.arange(n) for s, n in zip(ROUND_STARTS, ROUND_POINTS)])


def _round_marks(ax, labels=("R1", "R2", "R3")):
    trans = blended_transform_factory(ax.transData, ax.transAxes)
    for s, lab in zip(ROUND_STARTS, labels):
        ax.axvline(s, color="#888888", ls=":", lw=0.9, zorder=1)
        ax.text(s + 2.5, 0.952, lab, transform=trans, ha="left", va="center",
                fontsize=8, color="#666666")


def _prob_panel(ax, title, solids, dotted):
    t = _times()
    for name, color, s, d in zip(THRESHOLDS, COLORS, solids, dotted):
        ax.fill_between(t, d, s, color=color, alpha=0.1, linewidth=0)
        ax.plot(t, d, color=color, lw=1.0, ls=":", alpha=0.75)
        ax.plot(t, s, color=color, lw=1.5, alpha=0.85, label=name)
    _round_marks(ax)
    ax.set_ylim(0, 1.15)
    ax.set_yticks(np.arange(0, 1.151, 0.05))
    ax.yaxis.set_major_formatter(FormatStrFormatter("%.2f"))
    ax.grid(axis="y", color="#e3e3e3", lw=0.8)
    ax.set_axisbelow(True)
    ax.set_ylabel("Prob", fontsize=7)
    ax.set_title(title, fontsize=10)
    ax.tick_params(labelsize=7)
    ax.legend(loc="upper right", ncol=4, fontsize=6, handlelength=2.5, columnspacing=1.5)


def main():
    solids_a = [G_09, G_19, G_29, G_39, G_49, G_59, G_69, G_79]
    dotted_a = [G_09_D, G_19_D, G_29_D, G_39_D, G_49_D, G_59_D, G_69_D, G_79_D]
    solids_b = [F_09, F_19, F_29, F_39, F_49, F_59, F_69, F_79]
    dotted_b = [F_09_D, F_19_D, F_29_D, F_39_D, F_49_D, F_59_D, F_69_D, F_79_D]
    n = sum(ROUND_POINTS)
    for i, s in enumerate(solids_a + dotted_a + solids_b + dotted_b
                          + [TRUTH_A, TRUTH_B, PRED_A, PRED_B, LOW_A, HIGH_A, LOW_B, HIGH_B]):
        if len(s) != n:
            raise ValueError(f"series {i} has {len(s)} points, expected {n}")

    fig, axes = plt.subplots(3, 1, figsize=(14, 10), dpi=150, sharex=True,
                             gridspec_kw=dict(height_ratios=[3, 3, 2]))
    fig.subplots_adjust(left=0.0448, right=0.9895, top=0.965, bottom=0.054, hspace=0.144)

    metric = f"Total Strikes Attempted R4 Over Full Fight (Event {EVENT_ID})"
    _prob_panel(axes[0], f"{FIGHTER_A} \u2014 {metric}", solids_a, dotted_a)
    _prob_panel(axes[1], f"{FIGHTER_B} \u2014 {metric}", solids_b, dotted_b)

    ax = axes[2]
    t = _times()
    ax.fill_between(t, LOW_A, HIGH_A, color="red", alpha=0.14)
    ax.fill_between(t, LOW_B, HIGH_B, color="blue", alpha=0.13)
    ax.plot(t, TRUTH_A, color="red", lw=1.8, alpha=0.75, label=f"Truth {FIGHTER_A}: {FINAL_TRUTH[0]}")
    ax.plot(t, TRUTH_B, color="blue", lw=1.8, alpha=0.75, label=f"Truth {FIGHTER_B}: {FINAL_TRUTH[1]}")
    ax.plot(t, PRED_A, color="red", lw=1.8, ls=":", alpha=0.6, label=f"Predicted {FIGHTER_A}: {FINAL_PRED[0]}")
    ax.plot(t, PRED_B, color="blue", lw=1.8, ls=":", alpha=0.6, label=f"Predicted {FIGHTER_B}: {FINAL_PRED[1]}")
    _round_marks(ax)
    ax.yaxis.set_major_locator(MultipleLocator(20))
    ax.yaxis.set_minor_locator(MultipleLocator(5))
    ax.grid(axis="y", which="both", color="#e3e3e3", lw=0.8)
    ax.set_axisbelow(True)
    ax.tick_params(labelsize=7)
    ax.tick_params(axis="y", which="minor", length=0)
    ax.set_ylabel("Count", fontsize=7)
    ax.set_xlabel("Fight time (seconds)", fontsize=10)
    ax.legend(loc="upper left", fontsize=7)

    fig.savefig("out.png", dpi=150, facecolor="white")
    plt.close(fig)


if __name__ == "__main__":
    main()
